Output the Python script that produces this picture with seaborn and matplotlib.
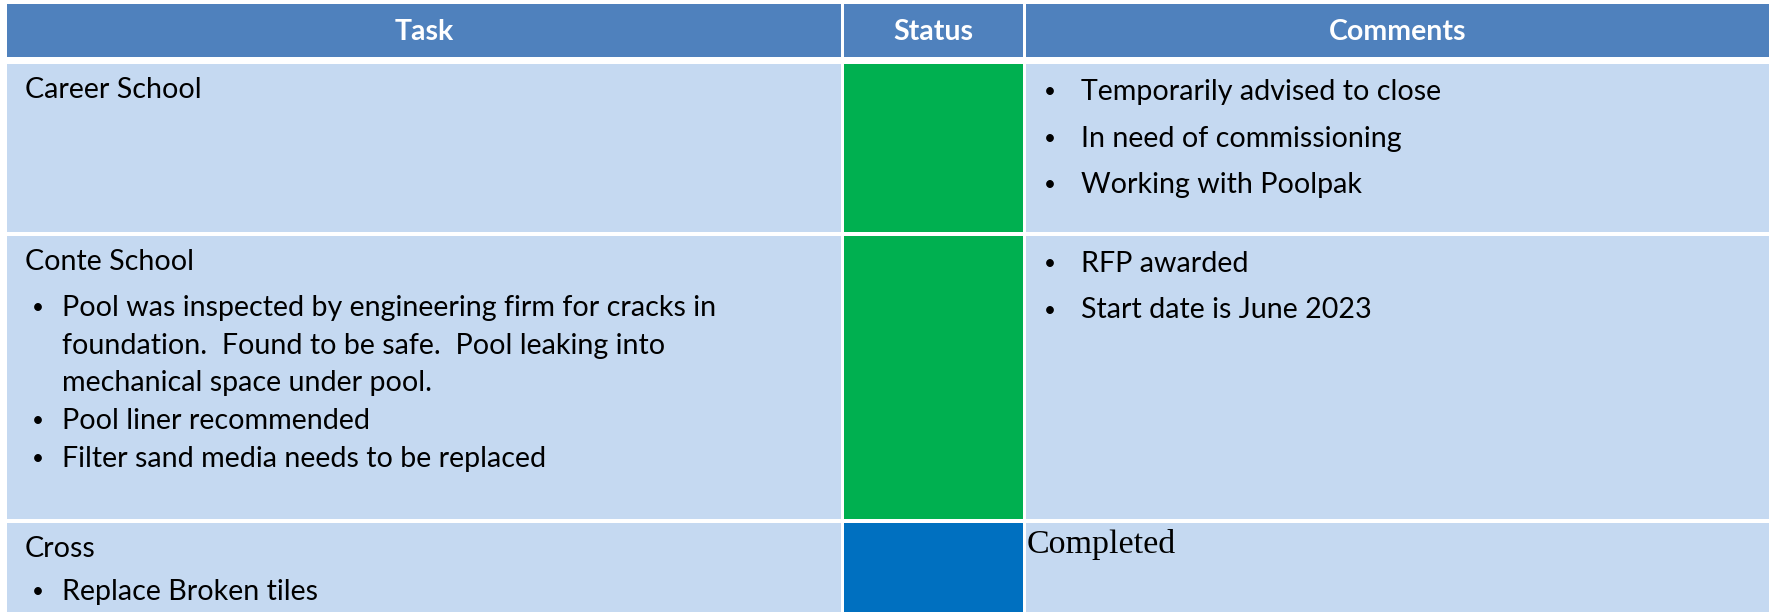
import matplotlib
matplotlib.use("Agg")
import matplotlib.pyplot as plt
from matplotlib.patches import Rectangle
import seaborn as sns

# ---- data ----
headers = ["Task", "Status", "Comments"]
task_titles = ["Career School", "Conte School", "Cross"]
task_bullets = [
    [],
    ["Pool was inspected by engineering firm for cracks in",
     "foundation.  Found to be safe.  Pool leaking into",
     "mechanical space under pool.",
     "Pool liner recommended",
     "Filter sand media needs to be replaced"],
    ["Replace Broken tiles"],
]
task_bullet_flags = [[], [True, False, False, True, True], [True]]
status_colors = ["#00B050", "#00B050", "#0070C0"]
comment_bullets = [
    ["Temporarily advised to close", "In need of commissioning", "Working with Poolpak"],
    ["RFP awarded", "Start date is June 2023"],
    [],
]
comment_plain = ["", "", "Completed"]

# ---- layout (pixels) ----
W, H = 1775, 612
col_edges = [(7, 841), (844, 1023), (1026, 1769)]
row_edges = [(4, 57), (64, 232), (236, 519), (523, 612)]
header_color = "#4F81BD"
body_color = "#C5D9F1"

sns.set_theme(style="white")
plt.rcParams['font.family'] = ['Lato', 'DejaVu Sans']

fig = plt.figure(figsize=(W / 100, H / 100), dpi=100)
ax = fig.add_axes([0, 0, 1, 1])
ax.set_xlim(0, W)
ax.set_ylim(H, 0)
ax.axis("off")

fs = 20.6  # pt
bfs = 15

# header
for (x0, x1), name in zip(col_edges, headers):
    y0, y1 = row_edges[0]
    ax.add_patch(Rectangle((x0, y0), x1 - x0, y1 - y0, color=header_color, lw=0))
    ax.text((x0 + x1) / 2, (y0 + y1) / 2 + 1, name, ha="center", va="center",
            color="white", fontsize=20.5, fontweight="bold")

# body rows
title_dy = 26
line_gap_task = 37.8
line_gap_comment = 46.5
for i in range(3):
    y0, y1 = row_edges[i + 1]
    for j, (x0, x1) in enumerate(col_edges):
        c = status_colors[i] if j == 1 else body_color
        ax.add_patch(Rectangle((x0, y0), x1 - x0, y1 - y0, color=c, lw=0))
    # task column
    ty = y0 + title_dy
    ax.text(25, ty, task_titles[i], ha="left", va="center", fontsize=fs, color="black")
    gap = line_gap_task if i == 1 else 43
    for k, (line, b) in enumerate(zip(task_bullets[i], task_bullet_flags[i])):
        yy = ty + gap * (k + 1) + (8 if i == 1 else 0)
        if b:
            ax.text(32, yy, "\u2022", ha="left", va="center", fontsize=bfs, color="black")
        ax.text(62, yy, line, ha="left", va="center", fontsize=fs, color="black")
    # comments column
    for k, line in enumerate(comment_bullets[i]):
        yy = ty + 2 + line_gap_comment * k
        ax.text(1044, yy, "\u2022", ha="left", va="center", fontsize=bfs, color="black")
        ax.text(1081, yy, line, ha="left", va="center", fontsize=fs, color="black")
    if comment_plain[i]:
        ax.text(1027, ty - 5, comment_plain[i], ha="left", va="center", fontsize=24.5,
                color="black", family=["Liberation Serif", "DejaVu Serif"])

fig.savefig("out.png", dpi=100, facecolor="white")
